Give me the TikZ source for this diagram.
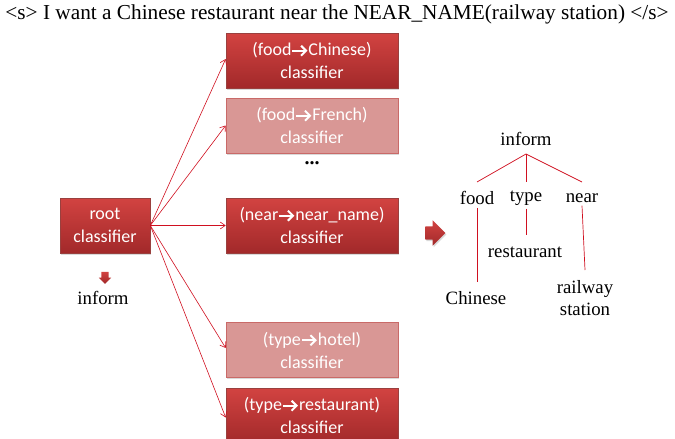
\documentclass[tikz,border=0pt]{standalone}
\usepackage{fontspec}
\setmainfont{Liberation Serif}
\newfontfamily\boxfont{Carlito}
\usetikzlibrary{positioning}
\usetikzlibrary{arrows.meta}
\usetikzlibrary{shapes.arrows}
\usetikzlibrary{shadows}

\definecolor{clsTop}{HTML}{D24341}
\definecolor{clsBot}{HTML}{A2292A}
\definecolor{clsPale}{HTML}{D99795}
\definecolor{clsEdge}{HTML}{C0504D}
\definecolor{linkRed}{HTML}{D01020}

\newcommand{\maps}{\tikz[baseline=0pt]\draw[white, line width=2pt,
  -{Straight Barb[length=5pt,width=10pt,line width=2pt]}] (0,4.8pt) -- (15pt,4.8pt);}

\tikzset{
  clsbox/.style={rectangle, draw=clsEdge!80!black, line width=0.6pt,
    top color=clsTop, bottom color=clsBot, text=white,
    minimum width=172pt, minimum height=55pt, align=center,
    font=\boxfont\fontsize{18}{23}\selectfont,
    drop shadow={shadow xshift=1pt, shadow yshift=-1.5pt, opacity=0.3}},
  palebox/.style={clsbox, top color=clsPale, bottom color=clsPale, draw=clsEdge!85},
  link/.style={draw=linkRed, line width=0.6pt, -{Straight Barb[length=5pt,width=7pt]}},
  treeword/.style={font=\fontsize{18.8}{22}\selectfont, inner sep=1pt, align=center},
  treeline/.style={draw=linkRed, line width=0.7pt},
  blockarrow/.style={single arrow, draw=none, top color=clsTop, bottom color=clsBot,
    minimum width=0pt}
}

\begin{document}
\begin{tikzpicture}[x=1pt, y=-1pt]
  \useasboundingbox (0,0) rectangle (675,439);

  % sentence
  \node[font=\fontsize{21.3}{24}\selectfont, inner sep=0pt] (sent) at (337,14)
    {<s> I want a Chinese restaurant near the NEAR\_NAME(railway station) </s>};

  % classifiers
  \node[clsbox] (root) at (105,225.5) [minimum width=90pt] {root\\classifier};
  \node[clsbox] (chinese) at (312,60.5) {(food\maps Chinese)\\classifier};
  \node[palebox] (french) at (312,125.5) {(food\maps French)\\classifier};
  \node[font=\fontsize{20}{20}\selectfont\bfseries, inner sep=0pt] (dots) at (312,163) {...};
  \node[clsbox] (nearname) at (312,225.5) {(near\maps near\_name)\\classifier};
  \node[palebox] (hotel) at (312,350) {(type\maps hotel)\\classifier};
  \node[clsbox] (rest) at (312,415.5) {(type\maps restaurant)\\classifier};

  \coordinate (fan) at (root.east);
  \draw[link] (fan) -- ([yshift=1.5pt]chinese.west);
  \draw[link] (fan) -- (french.west);
  \draw[link] (fan) -- (nearname.west);
  \draw[link] (fan) -- ([yshift=2pt]hotel.west);
  \draw[link] (fan) -- ([yshift=-2pt]rest.west);

  % root output
  \node[blockarrow, shape border rotate=270, inner sep=3.5pt, minimum height=12pt,
        single arrow head extend=2.5pt] (down) at (105,276) {};
  \node[treeword] (rootout) at (103,298) {inform};

  % result
  \node[blockarrow, inner sep=6.5pt, minimum height=20pt, single arrow head extend=6pt,
        drop shadow={shadow xshift=1pt, shadow yshift=-1.5pt, opacity=0.3}] (big) at (432,233) {};

  % semantic tree
  \node[treeword] (inform) at (526,139) {inform};
  \node[treeword] (food) at (477,198) {food};
  \node[treeword] (type) at (526,198) {type};
  \node[treeword] (near) at (582,198) {near};
  \node[treeword] (restaurant) at (525,252) {restaurant};
  \node[treeword] (chin) at (476,298) {Chinese};
  \node[treeword] (station) at (585,298) {railway\\station};

  \coordinate (top) at (526,154);
  \draw[treeline] (top) -- (477,182);
  \draw[treeline] (top) -- (526,182);
  \draw[treeline] (top) -- (582,182);
  \draw[treeline] (food.south) ++(0,2) -- (477,282);
  \draw[treeline] (type.south) ++(0,2) -- (526,235);
  \draw[treeline] (near.south) ++(0,2) -- (585,270);
\end{tikzpicture}
\end{document}
